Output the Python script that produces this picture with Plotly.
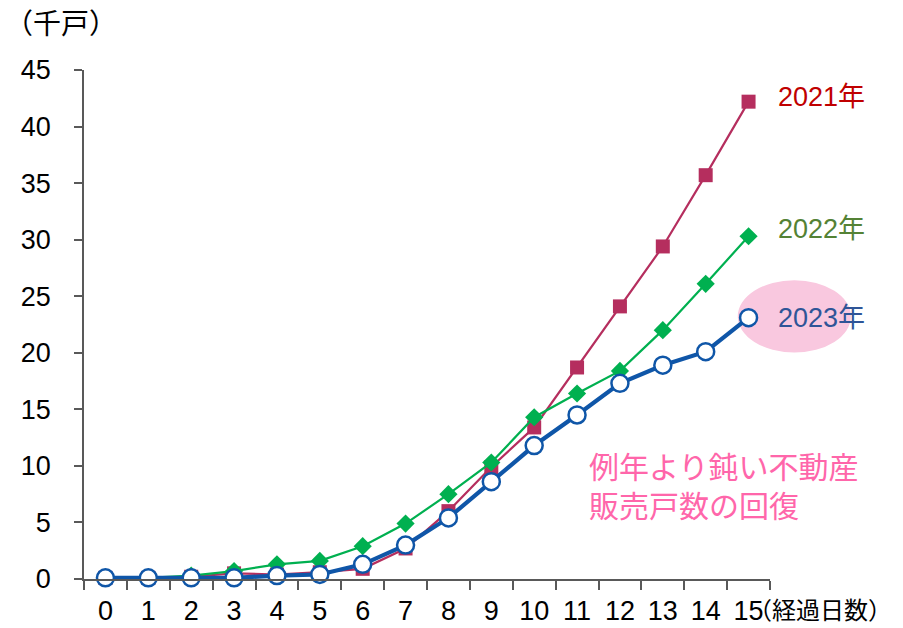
import plotly.graph_objects as go

# Days elapsed (x) and cumulative units sold (thousand units)
days = [str(d) for d in range(16)]
sales_2021 = [0.1, 0.1, 0.2, 0.5, 0.4, 0.6, 0.9, 2.7, 6.0, 9.9, 13.4, 18.7, 24.1, 29.4, 35.7, 42.2]
sales_2022 = [0.1, 0.1, 0.3, 0.7, 1.3, 1.6, 2.9, 4.9, 7.5, 10.3, 14.3, 16.4, 18.4, 22.0, 26.1, 30.3]
sales_2023 = [0.1, 0.1, 0.1, 0.1, 0.3, 0.4, 1.3, 3.0, 5.4, 8.6, 11.8, 14.5, 17.3, 18.9, 20.1, 23.1]

series_names = ["2021年", "2022年", "2023年"]
y_ticks = list(range(0, 50, 5))

FONT = "Liberation Sans, Arial, Noto Sans CJK JP, sans-serif"
JP_FONT = "Noto Sans CJK JP, Liberation Sans, sans-serif"

fig = go.Figure()

fig.add_trace(go.Scatter(
    x=days, y=sales_2021, name=series_names[0], mode="lines+markers",
    line=dict(color="#B52E5E", width=2.2),
    marker=dict(symbol="square", size=14, color="#B52E5E"),
    cliponaxis=False,
))
fig.add_trace(go.Scatter(
    x=days, y=sales_2022, name=series_names[1], mode="lines+markers",
    line=dict(color="#00B050", width=2.2),
    marker=dict(symbol="diamond", size=14, color="#00B050"),
    cliponaxis=False,
))
fig.add_trace(go.Scatter(
    x=days, y=sales_2023, name=series_names[2], mode="lines+markers",
    line=dict(color="#0F56A8", width=4.2),
    marker=dict(symbol="circle", size=17, color="white",
                line=dict(color="#0F56A8", width=2.5)),
    cliponaxis=False,
))

# Highlight behind the 2023 label
fig.add_shape(type="circle", xref="paper", yref="paper",
              x0=0.953, x1=1.118, y0=0.445, y1=0.587,
              fillcolor="#F9C8DF", line=dict(width=0), layer="below")

# Series labels at the line ends
label_colors = ["#C00000", "#548235", "#2F5597"]
label_vals = [sales_2021[-1], sales_2022[-1], sales_2023[-1]]
label_shift = [5, 7, 0]
for name, col, v, s in zip(series_names, label_colors, label_vals, label_shift):
    fig.add_annotation(x=1.0, xref="paper", y=v, yref="y", xshift=6, yshift=s,
                       text=name, showarrow=False, xanchor="left",
                       font=dict(family=FONT, size=27, color=col))

# Commentary
fig.add_annotation(x=0.733, y=0.185, xref="paper", yref="paper",
                   text="例年より鈍い不動産<br>販売戸数の回復", showarrow=False,
                   xanchor="left", yanchor="middle", align="left",
                   font=dict(family=JP_FONT, size=30, color="#FF66AA"))

# Axis unit labels
fig.add_annotation(x=-0.118, y=1.095, xref="paper", yref="paper",
                   text="（千戸）", showarrow=False, xanchor="left", yanchor="middle",
                   font=dict(family=JP_FONT, size=28, color="#000000"))
fig.add_annotation(x=0.966, y=-0.058, xref="paper", yref="paper",
                   text="（経過日数）", showarrow=False, xanchor="left", yanchor="middle",
                   borderpad=0,
                   font=dict(family=JP_FONT, size=24, color="#000000"))

fig.update_layout(
    width=903, height=628,
    margin=dict(l=84, r=133, t=70, b=49),
    paper_bgcolor="white", plot_bgcolor="white",
    showlegend=False,
    font=dict(family=FONT, size=28, color="#000000"),
)
fig.update_xaxes(
    type="category", tickson="boundaries", range=[-0.5, 15.5],
    showline=True, linecolor="#595959", linewidth=1.5,
    ticks="outside", ticklen=9, tickcolor="#595959", tickwidth=1.5,
    showgrid=False, zeroline=False, automargin=False,
    tickfont=dict(family=FONT, size=27), ticklabelstandoff=7,
)
fig.update_yaxes(
    range=[0, 45], tickvals=y_ticks,
    showline=True, linecolor="#595959", linewidth=1.5,
    ticks="outside", ticklen=8, tickcolor="#595959", tickwidth=1.5,
    showgrid=False, zeroline=False, automargin=False,
    tickfont=dict(family=FONT, size=27), ticklabelstandoff=18,
)

fig.write_html("out.html")
